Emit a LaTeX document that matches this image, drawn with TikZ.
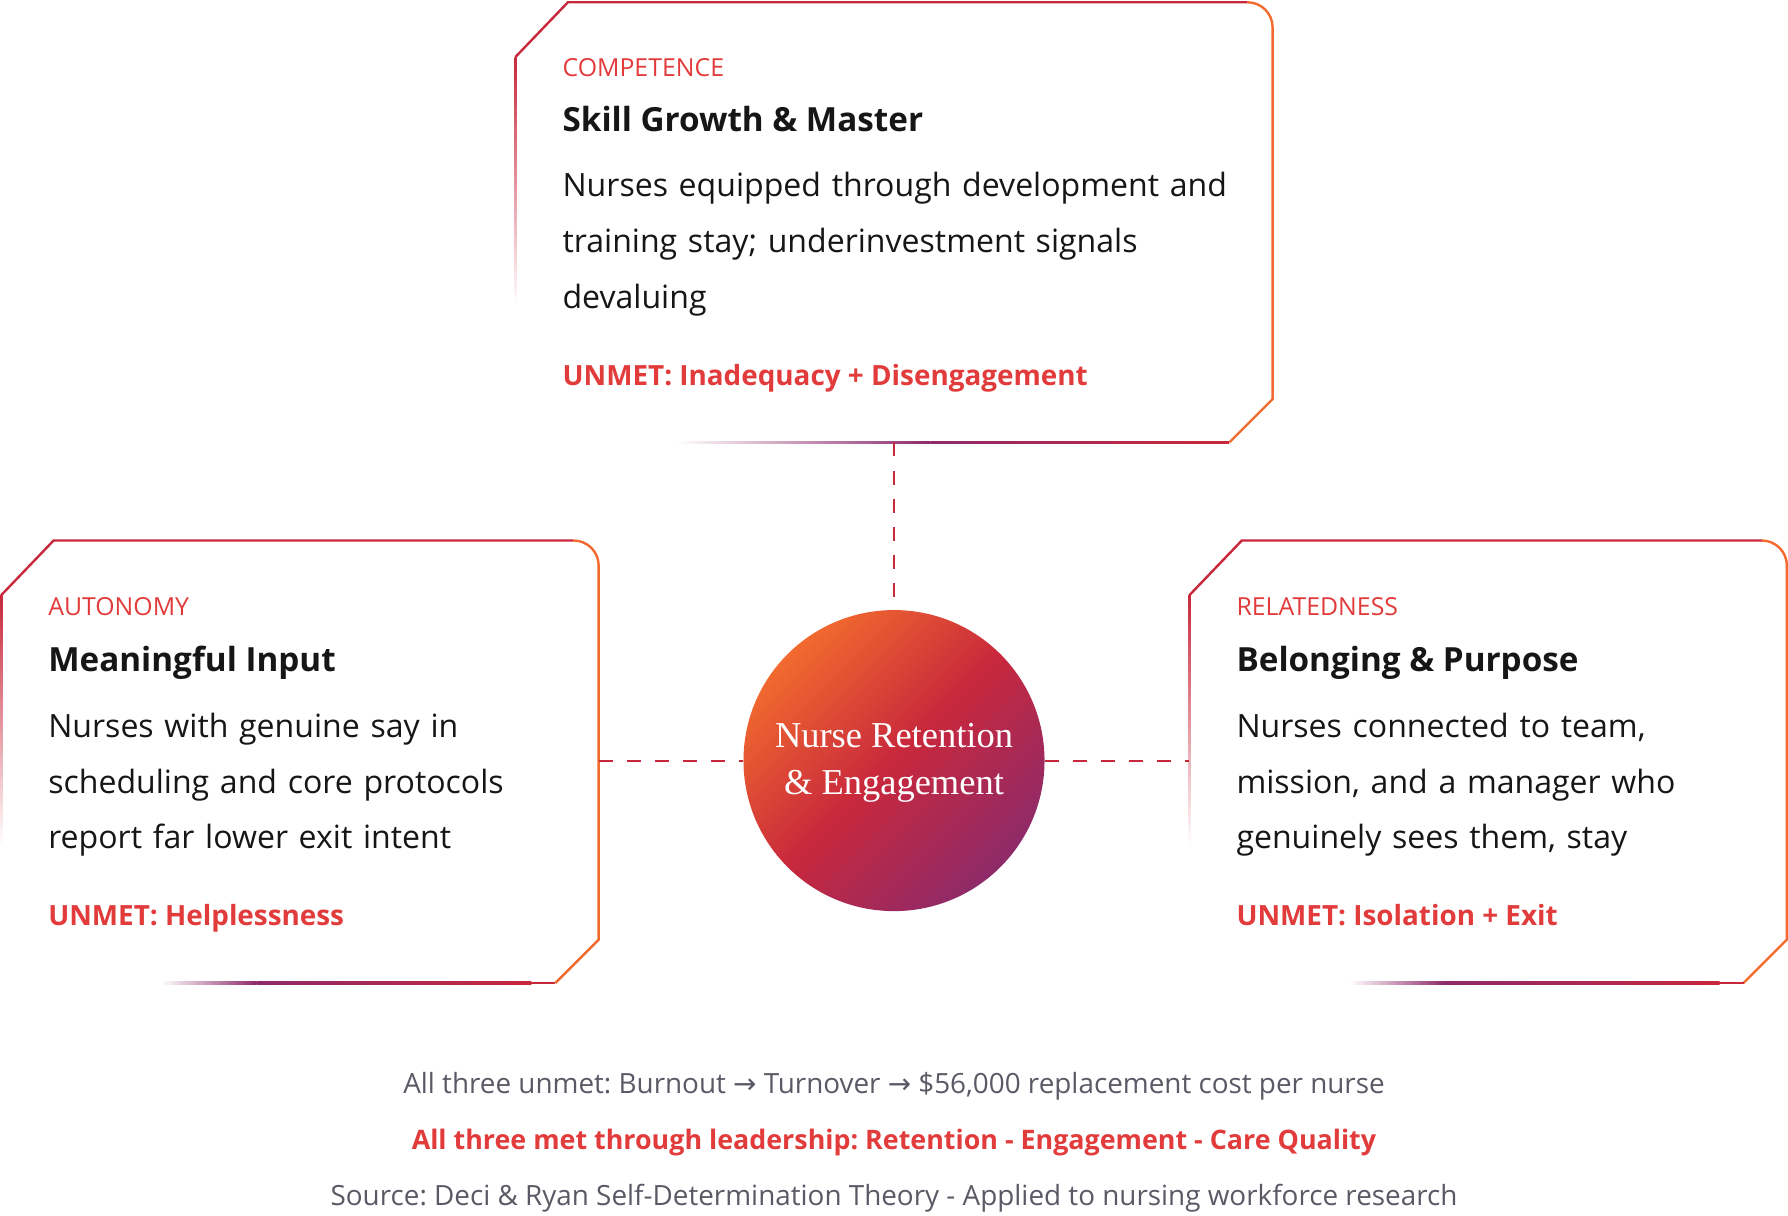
\documentclass[tikz,border=0pt]{standalone}
\usepackage{fontspec}
\setmainfont{Open Sans}
\newfontfamily\serifx{Liberation Serif}
\newfontfamily\symf{DejaVu Sans}
\usetikzlibrary{shadings}
\definecolor{accent}{HTML}{E23B3B}
\definecolor{deepred}{HTML}{C8283C}
\definecolor{orng}{HTML}{F26A2E}
\definecolor{purp}{HTML}{8E2A6A}
\definecolor{ink}{HTML}{161616}
\definecolor{grey}{HTML}{5A5A66}
\newcommand\rarr{{\symf →}}
\begin{document}
\frenchspacing
\begin{tikzpicture}[x=0.02cm,y=-0.02cm,
  cat/.style={anchor=base west,text=accent,font=\fontsize{12.4}{15}\selectfont,inner sep=0},
  ttl/.style={anchor=base west,text=ink,font=\fontsize{16.6}{20}\selectfont\bfseries,inner sep=0},
  body/.style={anchor=north west,text=ink,font=\fontsize{16}{27.8}\selectfont,inner sep=0,align=left,text width=15cm},
  unmet/.style={anchor=base west,text=accent,font=\fontsize{13.9}{17}\selectfont\bfseries,inner sep=0},
  foot/.style={anchor=base,font=\fontsize{13.9}{16}\selectfont,inner sep=0},
  edge/.style={line width=1.2pt},
  link/.style={draw=deepred,line width=0.9pt,dash pattern=on 7pt off 7pt}]
\useasboundingbox (0,0) rectangle (1568,1066);
\foreach \L/\T/\R/\B in {452/2/1116/388, 1/474/525/862, 1043/474/1567/862}{
  \draw[edge,deepred] (\L,\T+48) -- (\L+46,\T) -- (\R-22,\T);
  \draw[edge,orng] (\R-22,\T) arc[start angle=-90,end angle=0,radius=22] -- (\R,\B-38) -- (\R-38,\B);
  \draw[edge,deepred] (\R-38,\B) -- (\R-60,\B);
  \shade[left color=white,right color=purp] (\L+140,\B-1) rectangle (\R-300,\B+1);
  \shade[left color=purp,right color=deepred] (\R-300,\B-1) rectangle (\R-59,\B+1);
  \shade[top color=deepred,bottom color=white] (\L-1,\T+48) rectangle (\L+1,\B-120);
}
\draw[link] (784,388) -- (784,536);
\draw[link] (525,667) -- (652,667);
\draw[link] (916,667) -- (1043,667);
\shade[left color=orng,right color=purp,middle color=deepred,shading angle=45] (784,667) circle[radius=132];
\node[text=white,align=center,font=\serifx\fontsize{18.2}{23.5}\selectfont] (hub) at (784,669) {Nurse Retention\\\& Engagement};
\node[cat] (c1) at (493,67) {COMPETENCE};
\node[ttl] (t1) at (493,115) {Skill Growth \& Master};
\node[body] (b1) at (493,151) {Nurses equipped through development and\\training stay; underinvestment signals\\devaluing};
\node[unmet] (u1) at (493,338) {UNMET: Inadequacy + Disengagement};
\node[cat] (c2) at (42,540) {AUTONOMY};
\node[ttl] (t2) at (42,589) {Meaningful Input};
\node[body] (b2) at (42,625) {Nurses with genuine say in\\scheduling and core protocols\\report far lower exit intent};
\node[unmet] (u2) at (42,812) {UNMET: Helplessness};
\node[cat] (c3) at (1084,540) {RELATEDNESS};
\node[ttl] (t3) at (1084,589) {Belonging \& Purpose};
\node[body] (b3) at (1084,625) {Nurses connected to team,\\mission, and a manager who\\genuinely sees them, stay};
\node[unmet] (u3) at (1084,812) {UNMET: Isolation + Exit};
\node[foot,text=grey] (f1) at (784,959) {All three unmet: Burnout \rarr{} Turnover \rarr{} \$56,000 replacement cost per nurse};
\node[foot,text=accent,font=\fontsize{13.4}{16}\selectfont\bfseries] (f2) at (784,1008) {All three met through leadership: Retention - Engagement - Care Quality};
\node[foot,text=grey] (f3) at (784,1057) {Source: Deci \& Ryan Self-Determination Theory - Applied to nursing workforce research};
\end{tikzpicture}
\end{document}
